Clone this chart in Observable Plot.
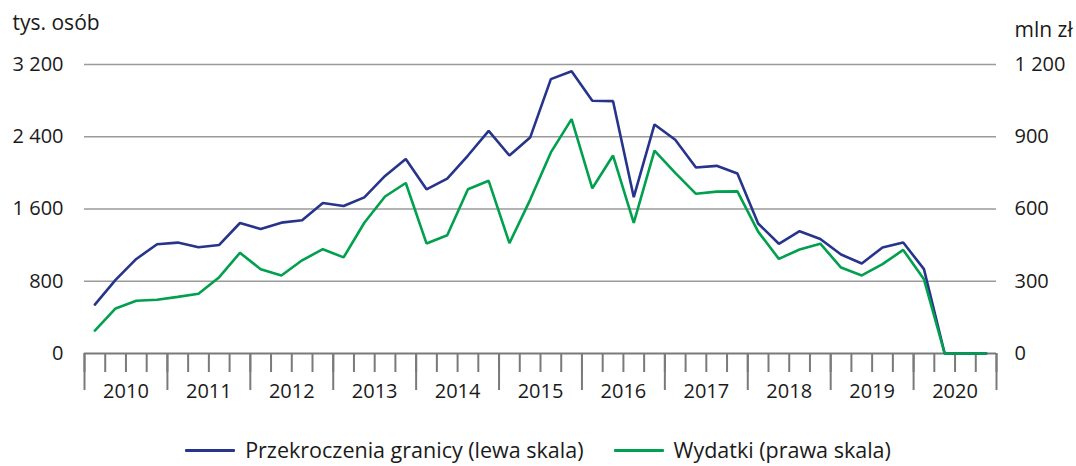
<!DOCTYPE html>
<html>
<head>
<meta charset="utf-8">
<script src="https://cdn.jsdelivr.net/npm/d3@7"></script>
<script src="https://cdn.jsdelivr.net/npm/@observablehq/plot@0.6"></script>
<style>
  html, body { margin: 0; padding: 0; background: #fff; }
  body { width: 1076px; height: 466px; position: relative; overflow: hidden; font-family: "Open Sans", sans-serif; }
  #legend { position: absolute; left: 0; top: 435px; width: 1076px; display: flex; justify-content: center; align-items: center; font-size: 21.5px; line-height: 30px; color: #1a1a1a; }
  .item { display: flex; align-items: center; margin: 0 15px; }
  .sw { width: 50px; height: 3px; margin-right: 10px; border-radius: 1px; }
</style>
</head>
<body>
<div id="chart"></div>
<div id="legend"></div>
<script>
// Years (each with 4 quarters, 2010 Q1 – 2020 Q4)
const years = ["2010","2011","2012","2013","2014","2015","2016","2017","2018","2019","2020"];
// Przekroczenia granicy, tys. osób (lewa skala)
const crossings = [542,815,1047,1209,1228,1176,1202,1445,1379,1449,1475,1667,
                   1633,1729,1966,2154,1818,1937,2192,2465,2192,2391,3038,3126,
                   2798,2794,1731,2536,2366,2060,2078,1993,1440,1215,1354,1268,
                   1096,997,1174,1229,934,0,0,0];
// Wydatki, mln zł (prawa skala)
const spending = [95,187,219,223,235,248,317,418,350,324,387,433,
                  399,543,652,708,457,491,682,717,458,638,835,973,
                  686,822,542,842,750,663,672,673,506,393,432,456,
                  357,324,371,430,308,0,0,0];
const leftTicks = [0, 800, 1600, 2400, 3200];
const rightTicks = [0, 300, 600, 900, 1200];
const seriesNames = ["Przekroczenia granicy (lewa skala)", "Wydatki (prawa skala)"];
const colors = ["#27348b", "#00a04e"];

const ratio = rightTicks[rightTicks.length-1] / leftTicks[leftTicks.length-1];
const nQ = years.length * 4;
const quarterBounds = d3.range(nQ + 1);
const yearBounds = d3.range(0, nQ + 1, 4);
const rowsA = crossings.map((v, i) => ({q: i + 0.5, v}));
const rowsB = spending.map((v, i) => ({q: i + 0.5, v: v / ratio}));
const fmt = v => d3.format(",")(v).replace(/,/g, " ");

const font = "'Open Sans', sans-serif";
const fs = 20;
const chart = Plot.plot({
  width: 1076,
  height: 430,
  marginLeft: 84,
  marginRight: 80,
  marginTop: 64,
  marginBottom: 77,
  style: {fontFamily: font, fontSize: fs + "px", color: "#1a1a1a", background: "#fff"},
  x: {domain: [0, nQ], axis: null},
  y: {domain: [0, 3200], axis: null},
  marks: [
    Plot.ruleY(leftTicks.slice(1), {stroke: "#9a9a9a", strokeWidth: 1.6}),
    Plot.axisY({ticks: leftTicks, anchor: "left", tickSize: 0, tickPadding: 21, tickFormat: fmt, fontSize: fs, label: null}),
    Plot.axisY({ticks: leftTicks, anchor: "right", tickSize: 0, tickPadding: 18, tickFormat: d => fmt(Math.round(d * ratio)), fontSize: fs, label: null}),
    Plot.axisX({ticks: quarterBounds, tickSize: 19, tickFormat: () => "", stroke: "#7a7a7a", strokeWidth: 2, label: null}),
    Plot.axisX({ticks: yearBounds, tickSize: 37, tickFormat: () => "", stroke: "#7a7a7a", strokeWidth: 2, label: null}),
    Plot.ruleY([0], {stroke: "#7a7a7a", strokeWidth: 2}),
    Plot.text(years, {x: (d, i) => 4 * i + 2, text: d => d, frameAnchor: "bottom", dy: 38, lineAnchor: "middle", fontSize: fs, fill: "#1a1a1a"}),
    Plot.line(rowsA, {x: "q", y: "v", stroke: colors[0], strokeWidth: 2.6, strokeLinejoin: "miter"}),
    Plot.line(rowsB, {x: "q", y: "v", stroke: colors[1], strokeWidth: 2.6, strokeLinejoin: "miter"}),
    Plot.text(["tys. osób"], {frameAnchor: "top-left", dx: -72, dy: -35, textAnchor: "start", lineAnchor: "bottom", fontSize: 21, fill: "#1a1a1a"}),
    Plot.text(["mln zł"], {frameAnchor: "top-right", dx: 18, dy: -28, textAnchor: "start", lineAnchor: "bottom", fontSize: 21, fill: "#1a1a1a"})
  ]
});
document.getElementById("chart").appendChild(chart);

const legend = document.getElementById("legend");
seriesNames.forEach((name, i) => {
  const item = document.createElement("div");
  item.className = "item";
  const sw = document.createElement("div");
  sw.className = "sw";
  sw.style.background = colors[i];
  const t = document.createElement("span");
  t.textContent = name;
  item.appendChild(sw);
  item.appendChild(t);
  legend.appendChild(item);
});
</script>
</body>
</html>
